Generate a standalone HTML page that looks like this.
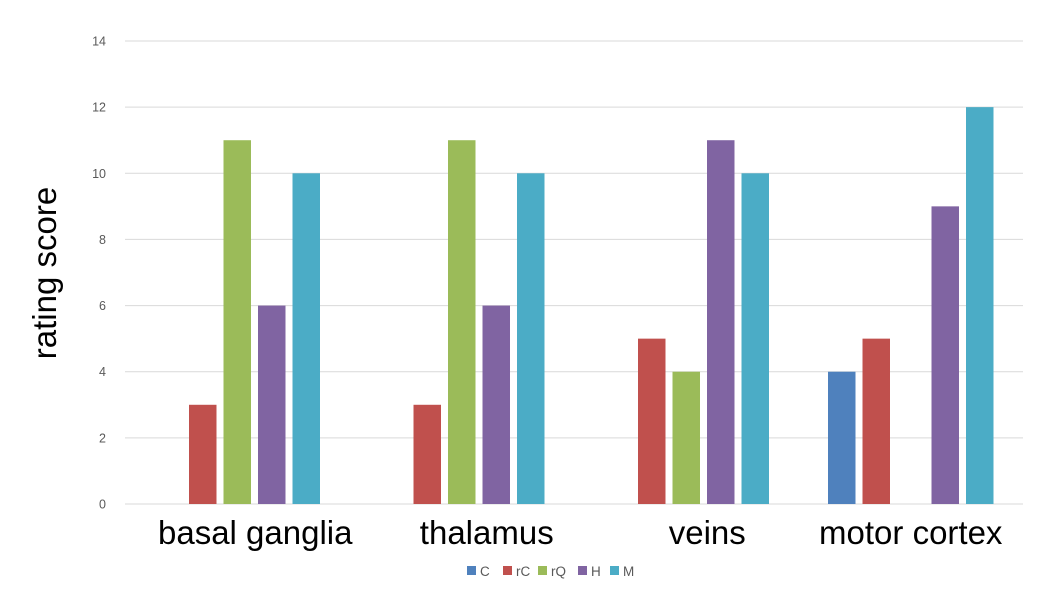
<!DOCTYPE html>
<html><head><meta charset="utf-8"><style>
html,body{margin:0;padding:0;background:#fff;}
svg{display:block;font-family:"Liberation Sans",sans-serif;}
</style></head><body>
<svg id="chart" width="1040" height="597" viewBox="0 0 1040 597" xmlns="http://www.w3.org/2000/svg">
<g id="grid"></g><g id="bars"></g><g id="labels"></g><g id="legend"></g>
<text transform="translate(56,273) rotate(-90)" text-anchor="middle" font-size="33" fill="#000">rating score</text>
</svg>
<script>
const categories = ["basal ganglia","thalamus","veins","motor cortex"];
const seriesNames = ["C","rC","rQ","H","M"];
const seriesColors = ["#4F81BD","#C0504D","#9BBB59","#8064A2","#4BACC6"];
const valuesC  = [0,0,0,4];
const valuesRC = [3,3,5,5];
const valuesRQ = [11,11,4,0];
const valuesH  = [6,6,11,9];
const valuesM  = [10,10,10,12];
const yTicks = [0,2,4,6,8,10,12,14];

const series=[valuesC,valuesRC,valuesRQ,valuesH,valuesM];
const labelShift=[18,25,21,0];
const NS="http://www.w3.org/2000/svg";
const x0=125,x1=1023,y0=504,y1=41,yMax=14;
const y=v=>y0-(v/yMax)*(y0-y1);
const groupW=(x1-x0)/categories.length;
const gc=i=>x0+groupW*(i+0.5);
const step=34.5,bw=27.5;
function mk(t,a,p){const e=document.createElementNS(NS,t);for(const k in a)e.setAttribute(k,a[k]);p.appendChild(e);return e;}
const grid=document.getElementById('grid');
yTicks.forEach(t=>{
  const l=mk('line',{x1:x0,x2:x1,y1:y(t),y2:y(t),stroke:'#d9d9d9','stroke-width':1},grid);
  
  
  const tx=mk('text',{x:106,y:y(t)+4.5,'text-anchor':'end','font-size':12.5,fill:'#595959'},grid);
  tx.textContent=t;
  
  
});
const bars=document.getElementById('bars');
categories.forEach((c,i)=>{
  series.forEach((s,j)=>{
    const v=s[i]; if(!v) return;
    const cx=gc(i)+(j-2)*step;
    const r=mk('rect',{x:cx-bw/2,y:y(v),width:bw,height:y0-y(v),fill:seriesColors[j]},bars);
    
    
  });
  const t=mk('text',{x:gc(i)+labelShift[i],y:544,'text-anchor':'middle','font-size':33,fill:'#000'},document.getElementById('labels'));
  t.textContent=c;
  
  
});
const lg=document.getElementById('legend');
const lx=[467,503,538,578,610];
seriesNames.forEach((n,j)=>{
  const g=mk('g',{},lg);
  
  
  mk('rect',{x:lx[j],y:566,width:9,height:9,fill:seriesColors[j]},g);
  const t=mk('text',{x:lx[j]+13,y:576,'font-size':13.5,fill:'#595959'},g);
  t.textContent=n;
});
</script>
</body></html>
